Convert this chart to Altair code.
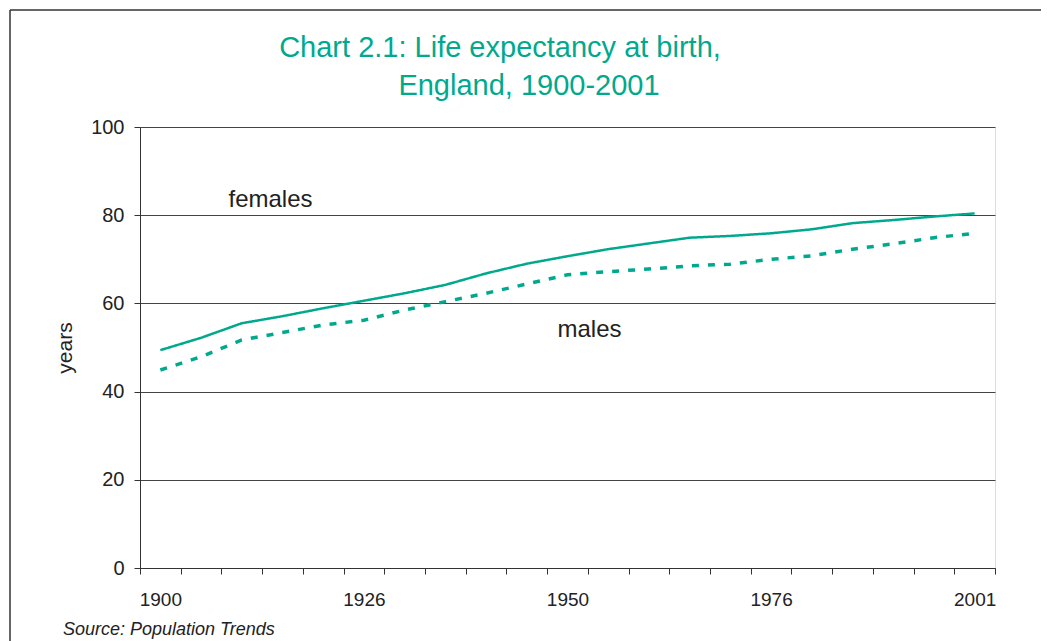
import altair as alt
import pandas as pd

years = ["1900", "1906", "1911", "1916", "1921", "1926", "1931", "1936", "1941", "1946",
         "1950", "1956", "1961", "1966", "1971", "1976", "1981", "1986", "1991", "1996", "2001"]
females = [49.4, 52.2, 55.5, 57.1, 58.9, 60.6, 62.3, 64.2, 66.8, 69.0,
           70.7, 72.3, 73.6, 74.9, 75.3, 75.9, 76.8, 78.2, 78.9, 79.7, 80.4]
males = [44.9, 47.9, 51.7, 53.4, 55.1, 56.2, 58.5, 60.4, 62.3, 64.4,
         66.5, 67.2, 67.8, 68.5, 68.9, 70.0, 70.8, 72.3, 73.5, 74.9, 75.9]
shown_labels = ["1900", "1926", "1950", "1976", "2001"]
y_ticks = [0, 20, 40, 60, 80, 100]

title_lines = ["Chart 2.1: Life expectancy at birth,", "England, 1900-2001"]
source_text = "Source: Population Trends"

TEAL = "#00a98e"
FONT = "Liberation Sans"
W, H = 855, 441

df = pd.DataFrame({
    "year": years * 2,
    "value": females + males,
    "series": ["females"] * len(years) + ["males"] * len(years),
})

x_enc = alt.X(
    "year:O", sort=years, title=None,
    scale=alt.Scale(paddingInner=0, paddingOuter=0),
    axis=alt.Axis(
        labelExpr="indexof(" + str(shown_labels) + ", datum.label) >= 0 ? datum.label : ''",
        labelAngle=0, tickBand="extent", tickSize=6, labelPadding=16,
        labelFontSize=19, labelColor="#222", labelFont=FONT,
        domainColor="#333", tickColor="#333", grid=False,
    ),
)
y_enc = alt.Y(
    "value:Q", title="years",
    scale=alt.Scale(domain=[0, 100], nice=False),
    axis=alt.Axis(
        values=y_ticks, tickSize=6, labelPadding=10, labelFontSize=20, labelColor="#222",
        labelFont=FONT, domainColor="#333", tickColor="#333",
        grid=True, gridColor="#444", gridWidth=1,
        titleFont=FONT, titleFontSize=21, titleFontWeight="normal", titleColor="#222",
        titleX=-75, titleY=H / 2, titleAngle=-90, titleBaseline="middle", titleAlign="center",
    ),
)

lines = alt.Chart(df).mark_line(color=TEAL).encode(
    x=x_enc,
    y=y_enc,
    strokeDash=alt.StrokeDash("series:N", scale=alt.Scale(domain=["females", "males"],
                                                          range=[[1, 0], [7, 9]]), legend=None),
    strokeWidth=alt.StrokeWidth("series:N", scale=alt.Scale(domain=["females", "males"],
                                                            range=[2.5, 3.5]), legend=None),
)

fem_lab = alt.Chart(pd.DataFrame({"year": ["1916"], "value": [83.5], "t": ["females"]})).mark_text(
    font=FONT, fontSize=24, color="#222", dx=-12, baseline="middle").encode(
    x=alt.X("year:O", sort=years), y="value:Q", text="t:N")
male_lab = alt.Chart(pd.DataFrame({"year": ["1950"], "value": [54.0], "t": ["males"]})).mark_text(
    font=FONT, fontSize=24, color="#222", dx=22, baseline="middle").encode(
    x=alt.X("year:O", sort=years), y="value:Q", text="t:N")

t1 = alt.Chart(pd.DataFrame({"t": [title_lines[0]]})).mark_text(
    font=FONT, fontSize=29, color=TEAL, align="center", baseline="alphabetic").encode(
    x=alt.value(360), y=alt.value(-70), text="t:N")
t2 = alt.Chart(pd.DataFrame({"t": [title_lines[1]]})).mark_text(
    font=FONT, fontSize=29, color=TEAL, align="center", baseline="alphabetic").encode(
    x=alt.value(389), y=alt.value(-32), text="t:N")
src = alt.Chart(pd.DataFrame({"t": [source_text]})).mark_text(
    font=FONT, fontSize=18, fontStyle="italic", color="#222", align="left", baseline="alphabetic").encode(
    x=alt.value(-77), y=alt.value(508), text="t:N")

frame_left = alt.Chart(pd.DataFrame({"a": [0]})).mark_rule(color="#333", strokeWidth=1.5).encode(
    x=alt.value(-130), y=alt.value(-117), y2=alt.value(H + 200))
frame_top = alt.Chart(pd.DataFrame({"a": [0]})).mark_rule(color="#333", strokeWidth=1.5).encode(
    x=alt.value(-130), x2=alt.value(W + 200), y=alt.value(-117))

chart = alt.layer(lines, fem_lab, male_lab, t1, t2, src, frame_left, frame_top).properties(
    width=W, height=H,
    autosize=alt.AutoSizeParams(type="none"),
    padding={"left": 132, "top": 119, "right": 46, "bottom": 74},
).configure_view(stroke="#999", strokeWidth=1.5).configure(background="white")

chart.save("out.html", embed_options={"renderer": "svg", "actions": False})
